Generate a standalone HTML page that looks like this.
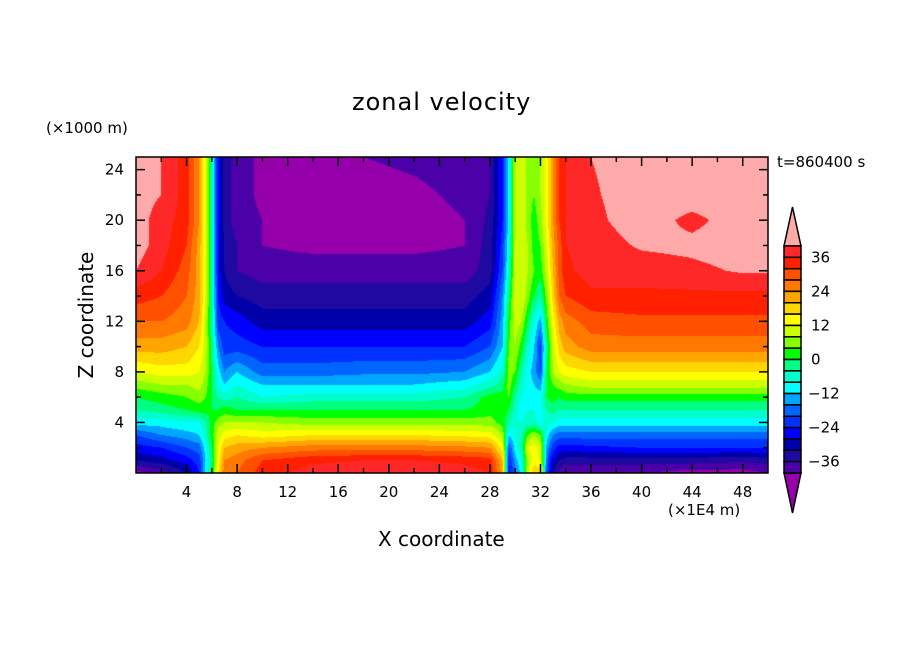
<!DOCTYPE html>
<html><head><meta charset="utf-8">
<style>
body{margin:0;background:#fff;}
#wrap{position:relative;width:904px;height:654px;overflow:hidden;background:#fff;font-family:"DejaVu Sans","Liberation Sans",sans-serif;color:#000;}
.t{position:absolute;white-space:nowrap;}
</style></head>
<body>
<div id="wrap">
<div class="t" style="left:352px;top:88px;font-size:24px;letter-spacing:1px;">zonal velocity</div>
<div class="t" style="left:46px;top:119px;font-size:15px;">(×1000 m)</div>
<div class="t" style="left:777px;top:153px;font-size:15px;">t=860400 s</div>
<div class="t" style="left:668px;top:501px;font-size:15px;">(×1E4 m)</div>
<div class="t" style="left:378px;top:527px;font-size:20px;">X coordinate</div>
<div class="t" style="left:-4px;top:303px;font-size:20px;width:180px;text-align:center;transform:rotate(-90deg);">Z coordinate</div>
<canvas id="field" width="632" height="316" style="position:absolute;left:136px;top:157px;"></canvas>
<svg id="ov" width="904" height="654" style="position:absolute;left:0;top:0;"></svg>
</div>
<script>
const xs=[0,2,4,5,5.5,6,6.5,7,8,10,14,18,22,26,28,29,29.5,30,30.5,31,31.5,32,32.5,33,33.5,34,36,40,44,48,50];
const zs=[0,1,2,3,4,5,6,7,8,10,12,14,16,18,20,22,25];
const vals=[
[-42,-38,-32,-24,-10,0,16,26,28,34,38,40,40,38,36,22,-26,-18,-10,10,20,18,-20,-32,-38,-40,-40,-40,-42,-42,-40],
[-32,-30,-26,-22,-12,-2,14,24,26,32,35,36,36,35,34,20,-24,-14,-8,8,14,12,-18,-28,-32,-34,-34,-34,-34,-35,-34],
[-26,-24,-20,-18,-10,0,12,20,22,24,26,26,26,25,24,14,-20,-10,-4,12,14,10,-14,-22,-26,-26,-25,-24,-24,-24,-24],
[-20,-16,-14,-12,-6,2,10,14,16,14,16,16,16,15,14,8,-12,-8,-4,4,8,4,-10,-16,-18,-18,-18,-18,-18,-18,-18],
[-10,-10,-8,-8,-4,2,6,8,8,8,6,6,6,6,6,2,-4,-8,-8,-6,-6,-10,-6,-8,-10,-10,-10,-10,-10,-10,-10],
[-4,-2,0,2,2,0,0,2,0,0,0,0,0,0,2,2,0,-6,-10,-8,-8,-10,-4,-2,-4,-4,-4,-4,-4,-4,-4],
[0,2,4,6,4,0,-4,-6,-4,-8,-6,-6,-6,-4,2,2,4,-4,-8,-10,-10,-10,0,2,0,2,2,2,2,2,2],
[6,8,8,10,6,0,-8,-12,-8,-12,-12,-12,-12,-10,-6,-2,6,0,-6,-10,-12,-14,0,4,6,8,10,10,10,10,10],
[12,14,14,12,8,0,-10,-16,-12,-18,-18,-17,-17,-16,-12,-6,6,4,-4,-10,-14,-20,0,8,12,14,16,16,16,16,16],
[22,22,20,16,10,-2,-16,-22,-22,-24,-24,-24,-24,-24,-20,-12,4,8,2,-6,-12,-22,-2,10,18,22,26,26,26,26,26],
[28,28,26,20,10,-4,-22,-24,-26,-30,-30,-30,-30,-30,-26,-14,2,10,8,0,-8,-14,2,14,22,26,30,31,31,31,31],
[34,32,28,22,12,-4,-24,-30,-32,-34,-34,-34,-34,-34,-30,-16,-2,12,12,6,0,-4,6,18,28,32,35,35,35,35,35],
[40,36,30,22,12,-4,-26,-32,-36,-38,-38,-38,-38,-38,-34,-20,-6,10,12,8,4,2,10,20,30,35,38,38,39,40.5,40.5],
[42,38,32,22,12,-4,-26,-32,-36,-40,-41,-41,-41,-40,-34,-22,-8,10,12,8,2,4,12,22,30,36,38,40.5,41,42,42],
[42,38,34,24,12,-4,-26,-34,-38,-40,-42,-42,-42,-40,-35,-24,-10,10,12,6,2,6,14,24,32,36,39,42,39,42,42],
[42,40,34,24,12,-4,-26,-34,-38,-41,-42,-42,-41,-39,-36,-24,-10,10,12,6,4,8,14,24,32,36,39.5,42,42,42,42],
[42,40,34,24,12,-4,-26,-34,-38,-41,-42,-40,-39,-38,-36,-24,-10,10,12,6,4,8,14,24,32,36,40,42,42,42,42]
];
const levels=[-40,-36,-32,-28,-24,-20,-16,-12,-8,-4,0,4,8,12,16,20,24,28,32,36,40];
const barLabels=[36,24,12,0,-12,-24,-36];
const xTicks=[4,8,12,16,20,24,28,32,36,40,44,48];
const zTicks=[4,8,12,16,20,24];
const colors=['#4b00a8','#1e0aa0','#0000aa','#0000ff','#0032ff','#0064ff','#00a5ff','#00ffff','#00ffcc','#00ff80','#00ff00','#88ff00','#ccff00','#ffff00','#ffd700','#ffa500','#ff7800','#ff5000','#ff2000','#ff2828'];
const underC='#9600aa',overC='#ffaaaa';

const PX0=136,PX1=768,PY0=157,PY1=473,XMAX=50,ZMAX=25;
const sx=x=>PX0+(x/XMAX)*(PX1-PX0);
const sy=z=>PY1-(z/ZMAX)*(PY1-PY0);
function colorFor(v){
  if(v<levels[0])return underC;
  if(v>=levels[levels.length-1])return overC;
  for(let i=0;i<levels.length-1;i++) if(v<levels[i+1]) return colors[i];
  return overC;
}
function idx(arr,v){for(let i=0;i<arr.length-2;i++){if(v<arr[i+1])return i;}return arr.length-2;}
function sample(x,z){
  const i=idx(xs,x),j=idx(zs,z);
  const tx=(x-xs[i])/(xs[i+1]-xs[i]),tz=(z-zs[j])/(zs[j+1]-zs[j]);
  const a=vals[j][i],b=vals[j][i+1],c=vals[j+1][i],d=vals[j+1][i+1];
  return (a*(1-tx)+b*tx)*(1-tz)+(c*(1-tx)+d*tx)*tz;
}
function hex(h){return [parseInt(h.substr(1,2),16),parseInt(h.substr(3,2),16),parseInt(h.substr(5,2),16)];}
(function draw(){
  const cv=document.getElementById('field'),ctx=cv.getContext('2d');
  const W=cv.width,H=cv.height,img=ctx.createImageData(W,H);
  for(let py=0;py<H;py++){
    const z=(H-py-0.5)/H*ZMAX;
    for(let px=0;px<W;px++){
      const x=(px+0.5)/W*XMAX;
      const c=hex(colorFor(sample(x,z)));
      const k=(py*W+px)*4;
      img.data[k]=c[0];img.data[k+1]=c[1];img.data[k+2]=c[2];img.data[k+3]=255;
    }
  }
  ctx.putImageData(img,0,0);
})();
const NS='http://www.w3.org/2000/svg';
const svg=document.getElementById('ov');
function mk(tag,attrs,parent){const e=document.createElementNS(NS,tag);for(const k in attrs)e.setAttribute(k,attrs[k]);(parent||svg).appendChild(e);return e;}
const fr=mk('rect',{x:PX0,y:PY0,width:PX1-PX0,height:PY1-PY0,fill:'none',stroke:'#000','stroke-width':1.5});


for(let v=2;v<XMAX;v+=2){
  const maj=xTicks.indexOf(v)>=0,L=maj?9:5,X=sx(v);
  const t1=mk('line',{x1:X,y1:PY1,x2:X,y2:PY1-L,stroke:'#000','stroke-width':1.5});
  
  
  const t2=mk('line',{x1:X,y1:PY0,x2:X,y2:PY0+L,stroke:'#000','stroke-width':1.5});
  
  
}
xTicks.forEach(v=>{
  const t=mk('text',{x:sx(v),y:497,'text-anchor':'middle','font-size':15,'font-family':'DejaVu Sans, Liberation Sans, sans-serif'});
  t.textContent=v;
  
  
});
for(let v=2;v<ZMAX;v+=2){
  const maj=zTicks.indexOf(v)>=0,L=maj?9:5,Y=sy(v);
  const t1=mk('line',{x1:PX0,y1:Y,x2:PX0+L,y2:Y,stroke:'#000','stroke-width':1.5});
  
  
  const t2=mk('line',{x1:PX1,y1:Y,x2:PX1-L,y2:Y,stroke:'#000','stroke-width':1.5});
  
  
}
zTicks.forEach(v=>{
  const t=mk('text',{x:124,y:sy(v)+5,'text-anchor':'end','font-size':15,'font-family':'DejaVu Sans, Liberation Sans, sans-serif'});
  t.textContent=v;
  
  
});
const BX=784,BW=17,BT=246,BB=473,n=colors.length,bh=(BB-BT)/n;
const g=mk('g',{});


const up=mk('polygon',{points:`${BX},${BT} ${BX+BW},${BT} ${BX+BW/2},207`,fill:overC,stroke:'#000','stroke-width':1.5},g);


const dn=mk('polygon',{points:`${BX},${BB} ${BX+BW},${BB} ${BX+BW/2},513`,fill:underC,stroke:'#000','stroke-width':1.5},g);


for(let i=0;i<n;i++){
  const r=mk('rect',{x:BX,y:BT+i*bh,width:BW,height:bh,fill:colors[n-1-i],stroke:'#000','stroke-width':1.5},g);
  
  
}
barLabels.forEach(v=>{
  const y=BT+(levels[levels.length-1]-v)/(levels[levels.length-1]-levels[0])*(BB-BT);
  const t=mk('text',{x:v<0?808:811,y:y+5,'font-size':15,'font-family':'DejaVu Sans, Liberation Sans, sans-serif'},g);
  t.textContent=v<0?'\u2212'+(-v):v;
  
  
});
</script>
</body></html>
